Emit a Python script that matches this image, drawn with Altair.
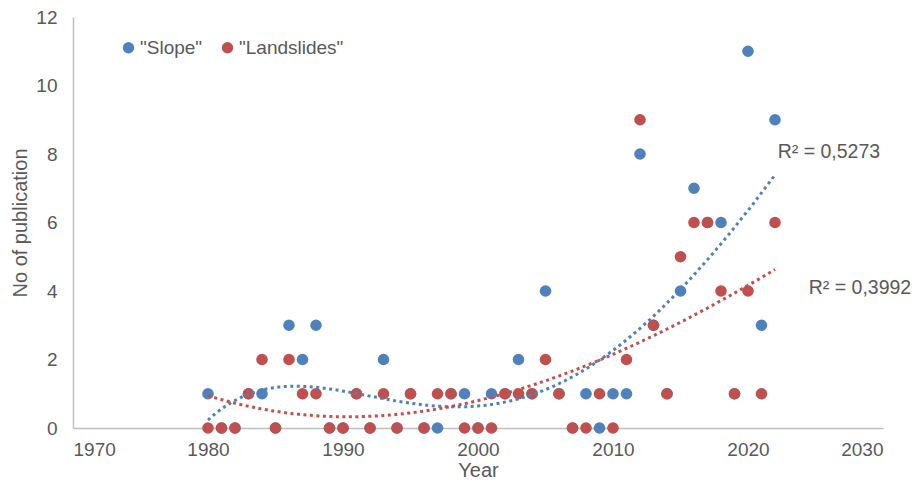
import altair as alt
import pandas as pd

# Both series have one value per year, 1980-2022
years = list(range(1980, 2023))
slope_counts = [1, 0, 0, 1, 1, 0, 3, 2, 3, 0, 0, 1, 0, 2, 0, 1, 0, 0, 1, 1, 0, 1,
                1, 2, 1, 4, 1, 0, 1, 0, 1, 1, 8, 3, 1, 4, 7, 6, 6, 1, 11, 3, 9]
land_counts = [0, 0, 0, 1, 2, 0, 2, 1, 1, 0, 0, 1, 0, 1, 0, 1, 0, 1, 1, 0, 0, 0,
               1, 1, 1, 2, 1, 0, 0, 1, 0, 2, 9, 3, 1, 5, 6, 6, 4, 1, 4, 1, 6]

series_names = ['"Slope"', '"Landslides"']
series_colors = ["#4F81BD", "#C0504D"]
trend_orders = [5, 3]

# R² annotations
r2_texts = ["R² = 0,5273", "R² = 0,3992"]
r2_x = [2022.2, 2024.5]
r2_y = [8.05, 4.1]

x_ticks = [1970, 1980, 1990, 2000, 2010, 2020, 2030]
y_ticks = [0, 2, 4, 6, 8, 10, 12]

rows = [{"Year": y, "Count": c, "Series": series_names[0]} for y, c in zip(years, slope_counts)]
rows += [{"Year": y, "Count": c, "Series": series_names[1]} for y, c in zip(years, land_counts)]
df = pd.DataFrame(rows)
ann = pd.DataFrame({"text": r2_texts, "x": r2_x, "y": r2_y})

FONT = "Liberation Sans"
GREY = "#595959"

xscale = alt.Scale(domain=[1970, 2030], nice=False, zero=False)
yscale = alt.Scale(domain=[0, 12], nice=False)

xenc = alt.X("Year:Q", scale=xscale,
             axis=alt.Axis(values=x_ticks, format="d", title="Year", grid=False, ticks=False,
                           domainColor="#bfbfbf", domainWidth=1.5,
                           labelFont=FONT, labelFontSize=19, labelColor=GREY, labelPadding=12,
                           titleFont=FONT, titleFontSize=20, titleFontWeight="normal",
                           titleColor=GREY, titlePadding=1))
yenc = alt.Y("Count:Q", scale=yscale,
             axis=alt.Axis(values=y_ticks, title="No of publication", grid=False, ticks=False,
                           domainColor="#bfbfbf", domainWidth=1.5,
                           labelFont=FONT, labelFontSize=19, labelColor=GREY, labelPadding=16,
                           titleFont=FONT, titleFontSize=20, titleFontWeight="normal",
                           titleColor=GREY, titlePadding=5))

color = alt.Color("Series:N",
                  scale=alt.Scale(domain=series_names, range=series_colors),
                  sort=series_names,
                  legend=alt.Legend(title=None, orient="none", direction="horizontal",
                                    legendX=46, legendY=21, symbolType="circle",
                                    symbolSize=130, symbolStrokeWidth=0,
                                    labelFont=FONT, labelFontSize=19, labelColor=GREY,
                                    labelOffset=2, columnPadding=15))

points = alt.Chart(df).mark_circle(size=135, opacity=1).encode(
    x=xenc, y=yenc, color=color
)


def trend(i):
    return alt.Chart(df).transform_filter(
        alt.datum.Series == series_names[i]
    ).transform_regression(
        "Year", "Count", method="poly", order=trend_orders[i]
    ).mark_line(
        color=series_colors[i], strokeWidth=3, strokeDash=[3, 3.5], strokeCap="butt"
    ).encode(x="Year:Q", y="Count:Q")


labels = alt.Chart(ann).mark_text(
    align="left", baseline="middle", font=FONT, fontSize=19.5, color=GREY
).encode(x=alt.X("x:Q", scale=xscale), y=alt.Y("y:Q", scale=yscale), text="text:N")

chart = alt.layer(points, trend(0), trend(1), labels).properties(
    width=810, height=411,
    autosize=alt.AutoSizeParams(type="none"),
    padding={"left": 65, "top": 9, "right": 30, "bottom": 54},
).configure_view(stroke=None)

chart.save("out.html", embed_options={"renderer": "svg", "actions": False})
